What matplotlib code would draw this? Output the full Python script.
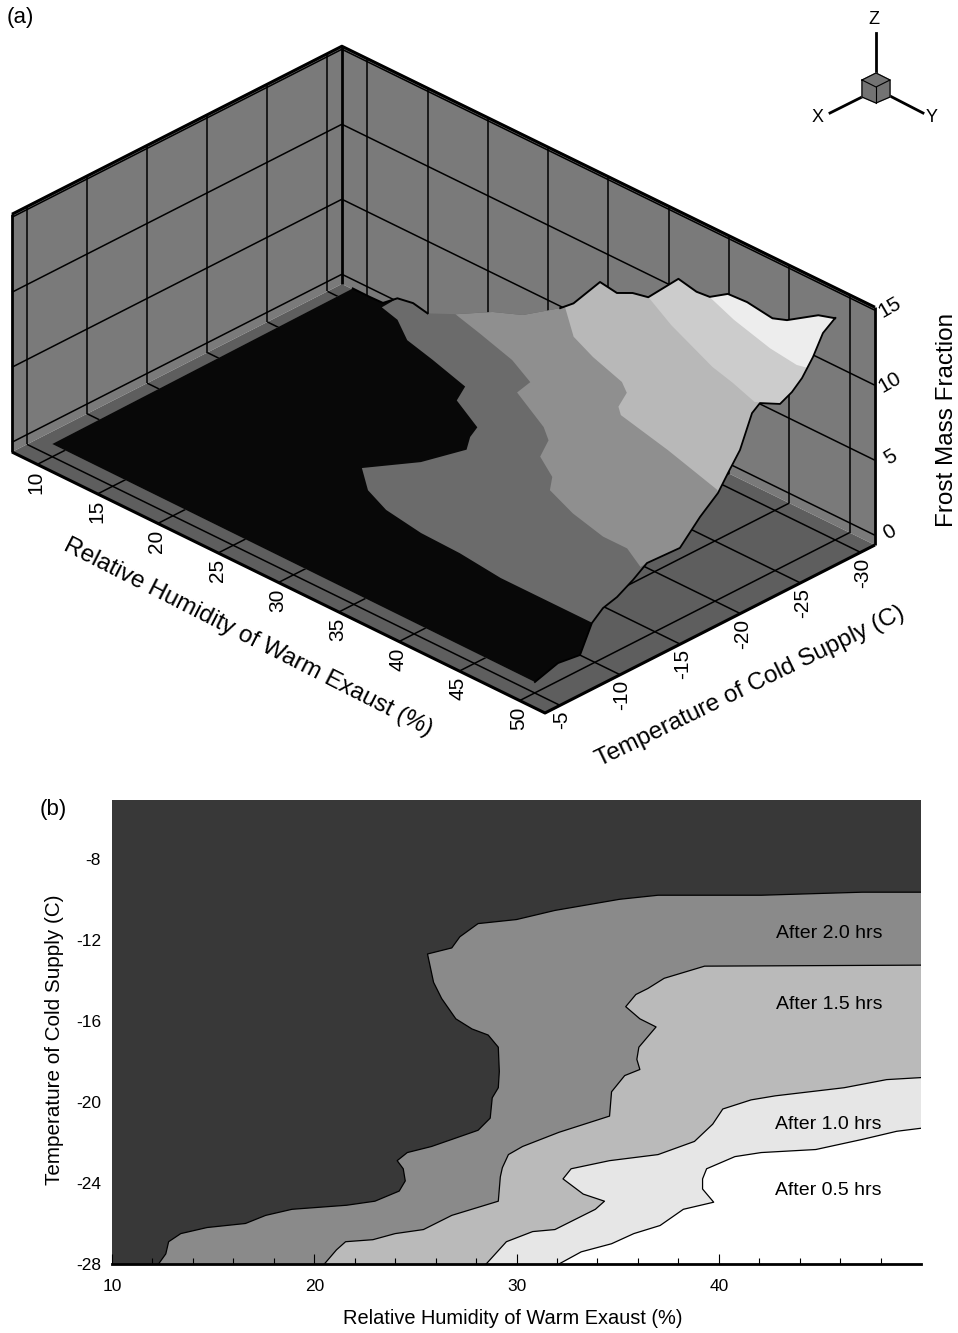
from matplotlib import pyplot as plt
from matplotlib.patches import Polygon
import numpy as np

plt.rcParams['font.family'] = ['Liberation Sans', 'DejaVu Sans']
plt.rcParams['axes.unicode_minus'] = False

##################################
# Data
##################################
# (a) surface profile along the T=-30 edge
back_rh = [10.0, 11.4, 12.5, 13.7, 15.0, 16.2, 18.5, 21.6, 24.1, 27.2, 28.3, 30.5, 31.9, 33.2, 34.5,
           37.0, 38.5, 39.6, 41.1, 42.7, 44.8, 46.0, 48.6, 50.0]
back_z = [0.37, 0.36, 0.39, 1.17, 1.36, 1.15, 2.0, 3.37, 4.15, 5.83, 6.58, 8.87, 8.69, 9.2, 9.43,
          11.64, 11.37, 11.46, 12.25, 12.33, 12.08, 12.43, 13.78, 14.13]

# (a) surface profile along the RH=50 edge
front_t = [-30.0, -28.98, -28.15, -27.24, -26.4, -25.41, -23.74, -23.08, -22.08, -21.08, -20.25,
           -18.75, -17.08, -14.34, -13.18, -11.85, -10.68, -9.76, -8.77, -6.94, -5.02]
front_z = [14.15, 13.56, 12.3, 11.27, 10.68, 10.29, 11.03, 10.63, 8.58, 7.45, 6.46,
           5.47, 4.09, 4.2, 3.55, 2.95, 2.69, 2.07, 0.34, 0.55, 0.07]

# (a) band edges on the surface, each at one frost level
lvl0_z = 1.5
lvl0_rh = [14.2, 15.9, 18.0, 20.7, 24.3, 25.1, 28.2, 28.7, 29.6, 28.7, 26.7, 28.8, 31.2, 34.6, 37.9, 41.7, 49.3]
lvl0_t = [-28.2, -27.8, -26.5, -25.9, -25.0, -23.5, -22.1, -21.0, -19.8, -16.9, -14.0, -12.4, -11.5, -11.0, -10.9, -10.5, -10.5]

lvl1_z = 4.0
lvl1_rh = [21.0, 23.6, 27.2, 29.8, 30.1, 34.1, 35.4, 36.4, 38.6, 39.6, 42.5, 45.7, 47.7, 49.8]
lvl1_t = [-27.5, -26.9, -26.0, -24.9, -23.5, -21.7, -20.8, -19.1, -17.9, -16.7, -15.7, -15.0, -15.0, -14.0]

lvl2_z = 7.0
lvl2_rh = [28.8, 31.6, 34.1, 37.4, 38.5, 39.3, 40.1, 45.0, 50.4]
lvl2_t = [-28.8, -26.7, -25.8, -24.9, -24.2, -22.7, -22.1, -21.1, -19.8]

lvl3_z = 10.0
lvl3_rh = [35.2, 38.5, 43.7, 45.9, 48.4, 49.6]
lvl3_t = [-29.3, -27.9, -26.1, -25.6, -24.9, -25.8]

lvl4_z = 12.0
lvl4_rh = [40.3, 43.2, 47.1, 49.6, 50.3]
lvl4_t = [-29.3, -28.4, -27.5, -27.2, -27.4]

rh_ticks3d = [10, 15, 20, 25, 30, 35, 40, 45, 50]
t_ticks3d = [-5, -10, -15, -20, -25, -30]
z_ticks3d = [0, 5, 10, 15]

# (b) contour lines, bottom edge to right edge
c2_rh = [12.3, 12.66, 12.8, 13.4, 14.7, 16.6, 17.6, 18.9, 21.6, 23.0, 24.2, 24.5, 24.4, 24.1, 24.6, 25.8,
         28.1, 28.7, 28.8, 29.1, 29.15, 29.1, 28.6, 27.8, 27.0, 26.3, 25.9, 25.6, 26.8, 27.2, 28.1, 30.0,
         31.9, 35.1, 37.0, 42.1, 47.1, 50.0]
c2_t = [-28.0, -27.5, -26.9, -26.5, -26.2, -26.0, -25.6, -25.3, -25.1, -24.9, -24.4, -23.9, -23.3, -22.9, -22.5, -22.2,
        -21.4, -20.8, -19.8, -19.3, -18.5, -17.3, -16.7, -16.4, -15.9, -14.9, -14.1, -12.7, -12.4, -11.85, -11.2, -11.0,
        -10.55, -10.0, -9.8, -9.8, -9.65, -9.65]

c15_rh = [20.5, 21.1, 21.55, 22.9, 24.0, 25.4, 26.8, 29.1, 29.2, 29.3, 29.6, 30.3, 32.1, 34.6, 34.7, 35.35, 36.1,
          35.95, 36.05, 36.9, 36.1, 35.4, 35.9, 36.5, 37.3, 39.3, 50.0]
c15_t = [-28.0, -27.3, -26.9, -26.8, -26.5, -26.3, -25.6, -24.9, -23.7, -23.25, -22.6, -22.2, -21.5, -20.7, -19.5, -18.7, -18.4,
         -17.9, -17.3, -16.3, -15.9, -15.3, -14.7, -14.4, -13.9, -13.3, -13.25]

c10_rh = [28.5, 29.5, 30.8, 31.9, 33.9, 34.35, 33.3, 32.3, 32.7, 34.6, 37.0, 38.8, 39.7, 40.2, 41.6, 42.8, 46.2, 48.3, 50.0]
c10_t = [-28.0, -26.9, -26.4, -26.3, -25.3, -24.9, -24.55, -23.8, -23.3, -22.9, -22.6, -21.95, -21.1, -20.35, -19.9, -19.7, -19.3, -18.9, -18.8]

c05_rh = [32.1, 33.2, 34.7, 35.8, 37.1, 38.25, 39.75, 39.2, 39.2, 39.4, 40.8, 42.1, 44.8, 47.1, 48.8, 50.0]
c05_t = [-28.0, -27.4, -27.0, -26.5, -26.1, -25.3, -24.95, -24.3, -23.8, -23.3, -22.7, -22.5, -22.35, -21.85, -21.45, -21.3]

x_major = [10, 20, 30, 40]
x_minor = [12, 14, 16, 18, 22, 24, 26, 28, 32, 34, 36, 38, 42, 44, 46, 48]
y_major = [-8, -12, -16, -20, -24, -28]
band_names = ['After 2.0 hrs', 'After 1.5 hrs', 'After 1.0 hrs', 'After 0.5 hrs']
band_rh = [45.45, 45.45, 45.4, 45.4]
band_t = [-11.7, -15.2, -21.1, -24.35]

##################################
# Figure, one pixel axes for (a)
##################################
W, H = 958, 1333
fig = plt.figure(figsize=(W/100, H/100), dpi=100)
ax = fig.add_axes([0, 0, 1, 1])
ax.set_xlim(0, W)
ax.set_ylim(H, 0)
ax.axis('off')

# box limits of the 3D plot
RH0, RH1 = 7.9, 52.1
T0, T1 = -3.75, -31.2
Z0, Z1 = -0.65, 15.2


def proj(rh, t, z):
    # oblique projection of the 3D box on to the page
    u = np.asarray(rh, dtype=float) - RH1
    v = T0 - np.asarray(t, dtype=float)
    z = np.asarray(z, dtype=float)
    x = 545 + 12.06*u + 12.02*v
    y = 713 + 5.905*u - 6.12*v - 15.0*(z - Z0)
    return np.column_stack([x*np.ones_like(u+v+z), y*np.ones_like(u+v+z)])


def line3d(rh, t, z, lw=1.1, color='k'):
    p = proj(rh, t, z)
    ax.plot(p[:, 0], p[:, 1], color=color, lw=lw, solid_capstyle='butt', zorder=3)


def poly3d(rh, t, z, color, zorder=2):
    pa = Polygon(proj(rh, t, z), closed=True, fc=color, ec='none', zorder=zorder)
    ax.add_patch(pa)
    return pa


# walls and floor
wall = '0.48'
floor = '0.37'
poly3d([RH0, RH0, RH0, RH0], [T0, T1, T1, T0], [Z0, Z0, Z1, Z1], wall)
poly3d([RH0, RH1, RH1, RH0], [T1, T1, T1, T1], [Z0, Z0, Z1, Z1], wall)
poly3d([RH0, RH1, RH1, RH0], [T0, T0, T1, T1], [Z0, Z0, Z0, Z0], floor)

for t in t_ticks3d:
    line3d([RH0, RH0], [t, t], [Z0, Z1])
    line3d([RH0, RH1], [t, t], [Z0, Z0])
for rh in rh_ticks3d:
    line3d([rh, rh], [T1, T1], [Z0, Z1])
    line3d([rh, rh], [T0, T1], [Z0, Z0])
for z in z_ticks3d:
    line3d([RH0, RH0], [T0, T1], [z, z])
    line3d([RH0, RH1], [T1, T1], [z, z])

# box edges
line3d([RH0, RH0, RH1], [T0, T1, T1], [Z1, Z1, Z1], lw=2.2)
line3d([RH0, RH0], [T0, T0], [Z0, Z1], lw=2.0)
line3d([RH0, RH0], [T1, T1], [Z0, Z1], lw=2.0)
line3d([RH1, RH1], [T1, T1], [Z0, Z1], lw=2.0)
line3d([RH0, RH1, RH1], [T0, T0, T1], [Z0, Z0, Z0], lw=2.2)

# surface outline, then lighter bands on top of it
back_rh = np.array(back_rh)
back_z = np.array(back_z)
front_t = np.array(front_t)
front_z = np.array(front_z)
sil_rh = np.r_[10.0, back_rh, np.full(len(front_t), 50.0)]
sil_t = np.r_[-5.0, np.full(len(back_rh), -30.0), front_t]
sil_z = np.r_[0.2, back_z, front_z]
sil = poly3d(sil_rh, sil_t, sil_z, '0.42', zorder=4)


def band3d(c_rh, c_t, c_z, color):
    # contour, then front edge toward T=-30, then back edge toward the contour start
    c_rh = np.array(c_rh)
    c_t = np.array(c_t)
    f = front_t < c_t[-1]
    b = back_rh > c_rh[0]
    rh = np.r_[c_rh, np.full(f.sum(), 50.0), back_rh[b][::-1]]
    t = np.r_[c_t, front_t[f][::-1], np.full(b.sum(), -30.0)]
    z = np.r_[np.full(len(c_rh), c_z), front_z[f][::-1], back_z[b][::-1]]
    pa = poly3d(rh, t, z, color, zorder=5)
    pa.set_clip_path(sil)


band3d(lvl1_rh, lvl1_t, lvl1_z, '0.56')
band3d(lvl2_rh, lvl2_t, lvl2_z, '0.72')
band3d(lvl3_rh, lvl3_t, lvl3_z, '0.80')
band3d(lvl4_rh, lvl4_t, lvl4_z, '0.93')

# black low region
f = front_t > lvl0_t[-1]
b = back_rh < lvl0_rh[0]
blk_rh = np.r_[10.0, back_rh[b], lvl0_rh, np.full(f.sum(), 50.0)]
blk_t = np.r_[-5.0, np.full(b.sum(), -30.0), lvl0_t, front_t[f]]
blk_z = np.r_[0.2, back_z[b], np.full(len(lvl0_rh), lvl0_z), front_z[f]]
poly3d(blk_rh, blk_t, blk_z, '0.03', zorder=6)

# far and right edge lines of the surface, the far edge only shows in two stretches
p = proj(back_rh, -30.0, back_z)
m = back_rh >= 27
ax.plot(p[m, 0], p[m, 1], 'k', lw=1.4, zorder=7)
m = back_rh <= 16.2
ax.plot(p[m, 0], p[m, 1], 'k', lw=1.4, zorder=7)
p = proj(50.0, front_t, front_z)
ax.plot(p[:, 0], p[:, 1], 'k', lw=1.3, zorder=7)

# tick labels of (a)
fs3d = 15
for rh in rh_ticks3d:
    p = proj(rh, T0, Z0)[0]
    ax.text(p[0]-1, p[1]+6, str(rh), rotation=90, ha='center', va='top', fontsize=fs3d)
for t in t_ticks3d:
    p = proj(RH1, t, Z0)[0]
    ax.text(p[0]+2, p[1]+5, str(t), rotation=90, ha='center', va='top', fontsize=fs3d)
for z in z_ticks3d:
    p = proj(RH1, T1, z)[0]
    ax.text(p[0]+15, p[1]-3, str(z), rotation=30, ha='center', va='center', fontsize=fs3d)

ax.text(248, 637, 'Relative Humidity of Warm Exaust (%)', rotation=-27, rotation_mode='anchor',
        ha='center', va='center', fontsize=17.5)
ax.text(750, 686, 'Temperature of Cold Supply (C)', rotation=26, rotation_mode='anchor',
        ha='center', va='center', fontsize=17.5)
ax.text(947, 420, 'Frost Mass Fraction', rotation=90, ha='center', va='center', fontsize=17.5)
ax.text(7, 18, '(a)', ha='left', va='center', fontsize=16)
ax.text(40, 810, '(b)', ha='left', va='center', fontsize=16)

# axis triad
ax.fill([876, 890, 890, 876, 862, 862], [73, 80, 97, 103, 97, 80], color='0.45', zorder=3)
ax.plot([862, 876, 890], [80, 87, 80], 'k', lw=0.8, zorder=4)
ax.plot([876, 876], [87, 103], 'k', lw=0.8, zorder=4)
ax.plot([862, 876, 890, 890, 876, 862, 862], [80, 73, 80, 97, 103, 97, 80], 'k', lw=0.8, zorder=4)
ax.plot([876, 876], [33, 73], 'k', lw=2)
ax.plot([862, 830], [97, 113], 'k', lw=2)
ax.plot([890, 923], [96, 113], 'k', lw=2)
ax.text(874, 20, 'Z', ha='center', va='center', fontsize=13)
ax.text(818, 117, 'X', ha='center', va='center', fontsize=13)
ax.text(932, 117, 'Y', ha='center', va='center', fontsize=13)

##################################
# (b) contour panel
##################################
left, right, top, bottom = 112, 921, 800, 1264
ax2 = fig.add_axes([left/W, 1-bottom/H, (right-left)/W, (bottom-top)/H])
ax2.set_xlim(10, 50)
ax2.set_ylim(-28, -5.1)
ax2.set_facecolor('0.22')


def fill_contour(c_x, c_y, color):
    ax2.fill(list(c_x)+[50, 50], list(c_y)+[-28, -28], fc=color, ec='none')
    ax2.plot(c_x, c_y, 'k', lw=0.9)


fill_contour(c2_rh, c2_t, '0.54')
fill_contour(c15_rh, c15_t, '0.73')
fill_contour(c10_rh, c10_t, '0.90')
fill_contour(c05_rh, c05_t, 'white')

for i in range(len(band_names)):
    ax2.text(band_rh[i], band_t[i], band_names[i], ha='center', va='center', fontsize=14)

for s in ['top', 'right', 'left']:
    ax2.spines[s].set_visible(False)
ax2.spines['bottom'].set_linewidth(2)
ax2.set_xticks(x_major)
ax2.set_xticks(x_minor, minor=True)
ax2.set_yticks(y_major)
ax2.tick_params(axis='x', which='major', direction='in', length=7, width=0.8, pad=11, labelsize=12.5)
ax2.tick_params(axis='x', which='minor', direction='in', length=4, width=0.8)
ax2.tick_params(axis='y', length=0, pad=8, labelsize=12.5)
ax2.set_xlabel('Relative Humidity of Warm Exaust (%)', fontsize=14.4)
ax2.set_ylabel('Temperature of Cold Supply (C)', fontsize=14.9)
ax2.xaxis.set_label_coords(0.4957, -0.097)
ax2.yaxis.set_label_coords(-0.0597, 0.483)

fig.savefig('out.png', dpi=100)
